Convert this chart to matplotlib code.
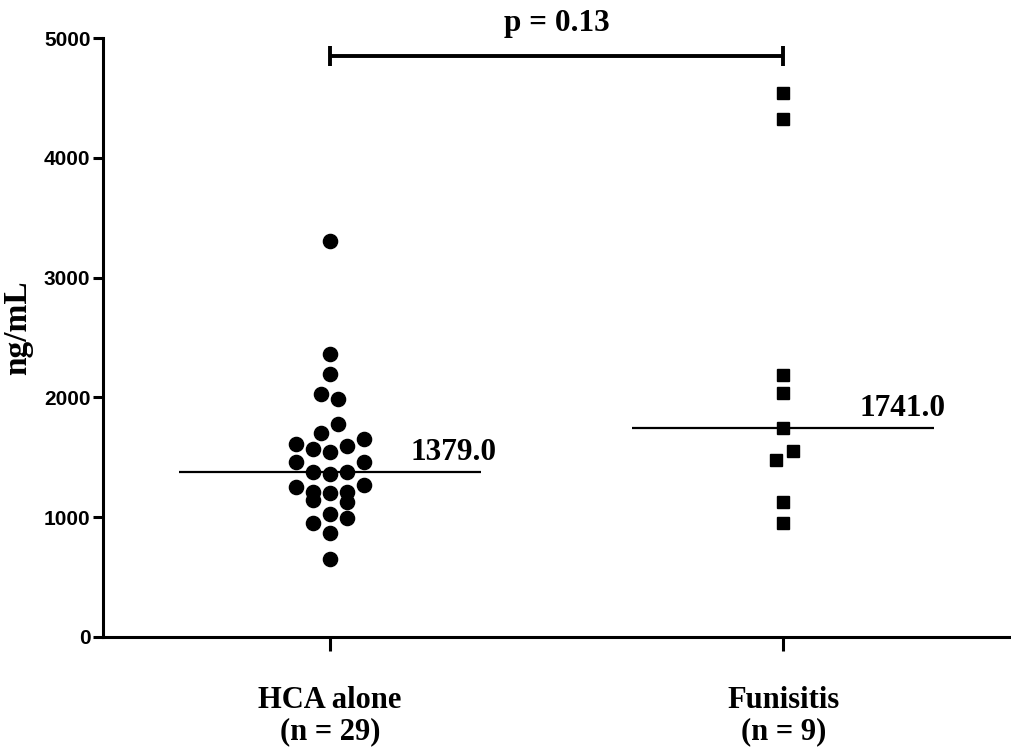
import matplotlib
matplotlib.use("Agg")
import matplotlib.pyplot as plt
import numpy as np

groups = ["HCA alone\n(n = 29)", "Funisitis\n(n = 9)"]
hca_values = [3307, 2362, 2195, 2028, 1987, 1778, 1700, 1611, 1567, 1547, 1597, 1650,
              1458, 1458, 1380, 1361, 1379, 1255, 1269, 1208, 1144, 1199, 1213, 1124,
              1024, 990, 954, 871, 654]
hca_offsets = [0, 0, 0, -0.019, 0.019, 0.019, -0.019, -0.075, -0.038, 0, 0.037, 0.075,
               -0.075, 0.075, -0.038, 0, 0.037, -0.075, 0.075, -0.038, -0.038, 0, 0.037, 0.037,
               0, 0.037, -0.038, 0, 0]
fun_values = [4541, 4324, 2187, 2040, 1742, 1553, 1477, 1130, 949]
fun_offsets = [0, 0, 0, 0, 0, 0.021, -0.017, 0, 0]
median_labels = ["1379.0", "1741.0"]
p_text = "p = 0.13"

fig = plt.figure(figsize=(10.11, 7.47), dpi=100)
ax = fig.add_axes([103/1011, 110/747, (1010-103)/1011, (637-38)/747])

ax.plot(np.array(hca_offsets) + 0, hca_values, 'o', color='black', markersize=10.2, clip_on=False)
ax.plot(np.array(fun_offsets) + 1, fun_values, 's', color='black', markersize=8.6, clip_on=False)

serif = ['Liberation Serif', 'DejaVu Serif']
meds = [np.median(hca_values), np.median(fun_values)]
for i, m in enumerate(meds):
    ax.hlines(m, i - 0.333, i + 0.333, color='black', linewidth=1.6)
label_pos = [(0.177, 1379 + 165), (1.168, 1741 + 170)]
for (x, y), t in zip(label_pos, median_labels):
    ax.text(x, y, t, fontsize=22.5, fontweight='bold', family=serif, ha='left', va='center')

# significance bracket
yb = 4850
ax.plot([0, 1], [yb, yb], color='black', linewidth=2.8, solid_capstyle='butt', clip_on=False)
for xx in (0, 1):
    ax.plot([xx, xx], [yb - 85, yb + 85], color='black', linewidth=2.8, solid_capstyle='butt', clip_on=False)
ax.text(0.5, 5125, p_text, fontsize=22.5, fontweight='bold', family=serif, ha='center', va='center', clip_on=False)

ax.set_xlim(-0.5, 1.5)
ax.set_ylim(0, 5000)
ax.set_yticks([0, 1000, 2000, 3000, 4000, 5000])
ax.set_xticks([0, 1])
ax.set_xticklabels(groups, fontsize=22, fontweight='bold', family=serif, linespacing=1.1)
for lab in ax.get_yticklabels():
    lab.set_fontsize(15)
    lab.set_fontweight('bold')
    lab.set_family(['Liberation Sans', 'DejaVu Sans'])
ax.tick_params(axis='y', direction='out', length=7, width=2.2, pad=2)
ax.tick_params(axis='x', direction='out', length=10, width=2.2, pad=25)
ax.spines['top'].set_visible(False)
ax.spines['right'].set_visible(False)
ax.spines['left'].set_linewidth(2.2)
ax.spines['bottom'].set_linewidth(2.2)
ax.set_ylabel("ng/mL", fontsize=24, fontweight='bold', family=serif)
ax.yaxis.set_label_coords(-0.077, 0.517)

fig.savefig("out.png", dpi=100)
